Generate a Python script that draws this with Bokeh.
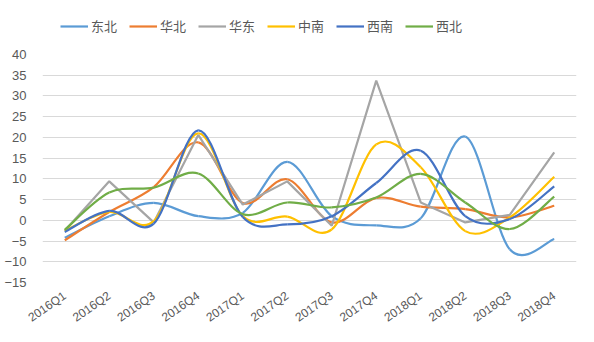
from bokeh.plotting import figure
from bokeh.layouts import column
from bokeh.models import Range1d, FixedTicker, Legend, LegendItem, ColumnDataSource
from bokeh.embed import file_html
from bokeh.resources import INLINE

categories = ["2016Q1", "2016Q2", "2016Q3", "2016Q4", "2017Q1", "2017Q2",
              "2017Q3", "2017Q4", "2018Q1", "2018Q2", "2018Q3", "2018Q4"]

dongbei = [-4.2, 1.0, 4.2, 1.0, 1.8, 14.1, 1.0, -1.2, 0.5, 20.2, -7.0, -4.5]
huabei = [-4.8, 2.0, 8.0, 18.8, 4.2, 9.9, -0.5, 5.4, 3.3, 2.7, 0.7, 3.5]
huadong = [-2.5, 9.4, -0.5, 20.6, 3.8, 9.4, -1.3, 33.7, 4.3, -0.5, 1.3, 16.4]
zhongnan = [-2.5, 2.0, -0.2, 21.0, 1.0, 0.9, -2.2, 18.3, 12.8, -2.6, 0.7, 10.5]
xinan = [-2.8, 2.3, -0.8, 21.7, 0.8, -1.0, 1.0, 9.0, 16.8, 1.0, 0.3, 8.2]
xibei = [-2.3, 6.7, 7.9, 11.3, 1.5, 4.3, 3.1, 5.5, 11.2, 4.3, -2.1, 5.7]

series = [
    ("东北", dongbei, "#5B9BD5", True),
    ("华北", huabei, "#ED7D31", True),
    ("华东", huadong, "#A5A5A5", False),
    ("中南", zhongnan, "#FFC000", True),
    ("西南", xinan, "#4472C4", True),
    ("西北", xibei, "#70AD47", True),
]

FONT = "Noto Sans CJK SC"
GRAY_TXT = "#595959"

p = figure(width=594, height=298, output_backend="svg", toolbar_location=None,
           x_range=Range1d(-0.5, len(categories) - 0.5), y_range=Range1d(-15, 40),
           min_border_left=42, min_border_right=18, min_border_top=10, min_border_bottom=60)
p.outline_line_color = None
p.background_fill_color = "white"
p.border_fill_color = "white"

p.xgrid.grid_line_color = None
p.ygrid.grid_line_color = "#D9D9D9"
p.ygrid.grid_line_width = 1
p.yaxis.ticker = FixedTicker(ticks=list(range(-15, 41, 5)))
p.xaxis.ticker = FixedTicker(ticks=list(range(len(categories))))
p.xaxis.major_label_overrides = {i: c for i, c in enumerate(categories)}
p.xaxis.major_label_orientation = 0.6

for ax in (p.xaxis, p.yaxis):
    ax.axis_line_color = None
    ax.major_tick_line_color = None
    ax.minor_tick_line_color = None
    ax.major_label_text_color = GRAY_TXT
    ax.major_label_text_font = "Liberation Sans"
    ax.major_label_text_font_size = "13px"
p.xaxis.major_label_text_font_size = "12px"
p.yaxis.major_label_standoff = 10
p.xaxis.major_label_standoff = 6

xs = list(range(len(categories)))
for name, vals, color, smooth in series:
    if smooth:
        n = len(vals)
        x0, y0, x1, y1, cx0, cy0, cx1, cy1 = [], [], [], [], [], [], [], []
        for i in range(n - 1):
            pm = i - 1 if i > 0 else i
            pp = i + 2 if i + 2 < n else i + 1
            x0.append(xs[i]); y0.append(vals[i])
            x1.append(xs[i + 1]); y1.append(vals[i + 1])
            cx0.append(xs[i] + (xs[i + 1] - xs[pm]) / 6)
            cy0.append(vals[i] + (vals[i + 1] - vals[pm]) / 6)
            cx1.append(xs[i + 1] - (xs[pp] - xs[i]) / 6)
            cy1.append(vals[i + 1] - (vals[pp] - vals[i]) / 6)
        src = ColumnDataSource(dict(x0=x0, y0=y0, x1=x1, y1=y1,
                                    cx0=cx0, cy0=cy0, cx1=cx1, cy1=cy1))
        p.bezier(x0="x0", y0="y0", x1="x1", y1="y1", cx0="cx0", cy0="cy0",
                 cx1="cx1", cy1="cy1", source=src, line_color=color, line_width=2.2)
    else:
        p.line(xs, vals, line_color=color, line_width=2.2)

# legend strip above the plot
lf = figure(width=594, height=44, output_backend="svg", toolbar_location=None,
            x_range=Range1d(0, 1), y_range=Range1d(0, 1),
            min_border_left=0, min_border_right=0, min_border_top=0, min_border_bottom=0)
lf.axis.visible = False
lf.grid.visible = False
lf.outline_line_color = None
leg_items = []
for name, vals, color, smooth in series:
    proxy = lf.line([0, 1], [0, 0], line_color=color, line_width=2.2, visible=False)
    leg_items.append(LegendItem(label=name, renderers=[proxy]))

legend = Legend(items=leg_items, orientation="horizontal", location=(18, 9),
                label_text_font=FONT, label_text_font_size="13px",
                label_text_color=GRAY_TXT, glyph_width=28, glyph_height=16,
                label_standoff=3, spacing=12, padding=4, margin=0,
                border_line_color=None, background_fill_alpha=0)
lf.add_layout(legend, "center")

layout = column(lf, p, spacing=0)
open("out.html", "w").write(file_html(layout, INLINE))
